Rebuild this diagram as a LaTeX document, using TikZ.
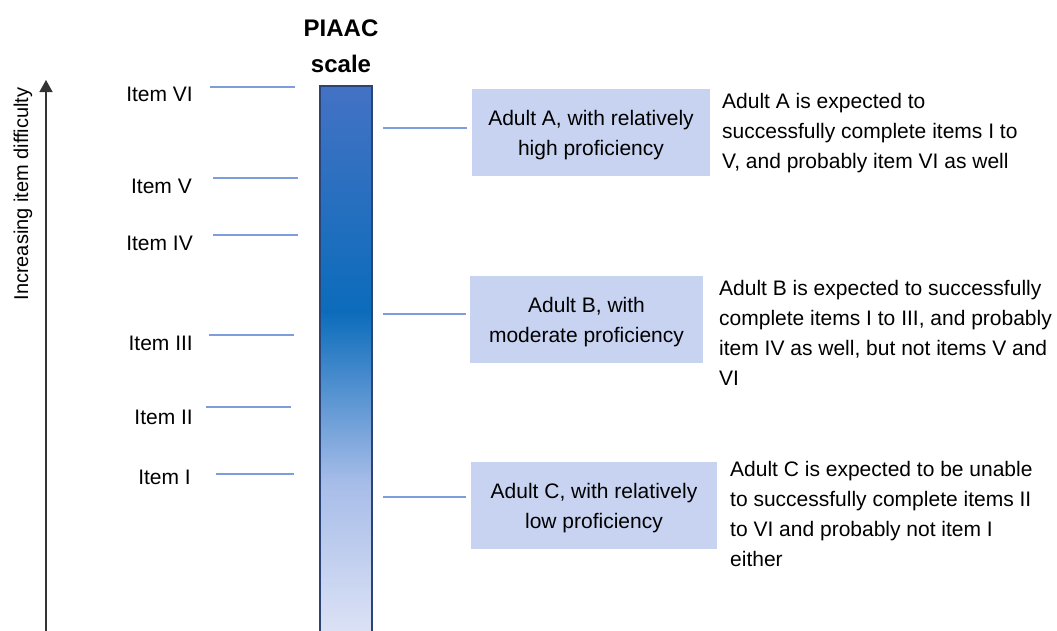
\documentclass[tikz,border=0pt]{standalone}
\usepackage{fontspec}
\setmainfont{Liberation Sans}
\usetikzlibrary{arrows.meta}
\definecolor{boxfill}{HTML}{C7D3F0}
\definecolor{tickcol}{HTML}{7E9DDA}
\definecolor{barborder}{HTML}{2B4475}
\definecolor{barA}{HTML}{4472C4}
\definecolor{barB}{HTML}{0B6CBB}
\definecolor{barC}{HTML}{A6BCE8}
\definecolor{barD}{HTML}{DEE4F6}
\definecolor{axiscol}{HTML}{333333}
\begin{document}
\begin{tikzpicture}[x=1pt,y=-1pt,
  txt/.style={font=\fontsize{21}{30}\selectfont, inner sep=0pt, text=black},
  itemlbl/.style={txt, anchor=base east},
  desc/.style={txt, anchor=base west, align=left},
  adultbox/.style={txt, fill=boxfill, minimum height=87pt, align=center, text depth=0pt},
  tickline/.style={draw=tickcol, line width=1.3pt},
  barframe/.style={draw=barborder, line width=2pt, minimum width=52pt, minimum height=550pt, inner sep=0pt, anchor=north west}
]
\clip (0,0) rectangle (1057,630);
\fill[white] (0,0) rectangle (1057,630);

% axis arrow
\coordinate (axbot) at (46,632);
\coordinate (axtop) at (46,80);
\draw[axiscol, line width=1.5pt, -{Triangle[length=12pt,width=13pt]}] (axbot) -- (axtop);
\node[txt, font=\fontsize{20}{24}\selectfont, rotate=90] (axlbl) at (23,194) {Increasing item difficulty};

% bar
\shade[top color=barA, bottom color=barB] (319,85) rectangle (371,312);
\shade[top color=barB, bottom color=barC] (319,311) rectangle (371,482);
\shade[top color=barC, bottom color=barD] (319,481) rectangle (371,640);
\node[barframe] (bar) at (319,85) {};
\node[txt, font=\bfseries\fontsize{24}{36}\selectfont, align=center, anchor=base] (title) at (341,72) {PIAAC\\scale};

% items
\node[itemlbl] (i6) at (193,101) {Item VI};
\node[itemlbl] (i5) at (192,193) {Item V};
\node[itemlbl] (i4) at (193,250) {Item IV};
\node[itemlbl] (i3) at (193,350) {Item III};
\node[itemlbl] (i2) at (193,424) {Item II};
\node[itemlbl] (i1) at (191,484) {Item I};

\coordinate (t6a) at (210,87);  \coordinate (t6b) at (295,87);
\coordinate (t5a) at (213,178); \coordinate (t5b) at (298,178);
\coordinate (t4a) at (213,235); \coordinate (t4b) at (298,235);
\coordinate (t3a) at (209,335); \coordinate (t3b) at (294,335);
\coordinate (t2a) at (206,407); \coordinate (t2b) at (291,407);
\coordinate (t1a) at (216,474); \coordinate (t1b) at (294,474);
\draw[tickline] (t6a) -- (t6b);
\draw[tickline] (t5a) -- (t5b);
\draw[tickline] (t4a) -- (t4b);
\draw[tickline] (t3a) -- (t3b);
\draw[tickline] (t2a) -- (t2b);
\draw[tickline] (t1a) -- (t1b);

% adult boxes
\node[adultbox, minimum width=238pt] (bA) at (591,132.5) {Adult A, with relatively\\high proficiency};
\node[adultbox, minimum width=233pt] (bB) at (586.5,319.5) {Adult B, with\\moderate proficiency};
\node[adultbox, minimum width=246pt] (bC) at (594,505.5) {Adult C, with relatively\\low proficiency};

\coordinate (cA) at (383,128); \coordinate (cB) at (383,314); \coordinate (cC) at (383,497);
\draw[tickline] (cA) -- ([xshift=-5pt]bA.west |- cA);
\draw[tickline] (cB) -- ([xshift=-4pt]bB.west |- cB);
\draw[tickline] (cC) -- ([xshift=-5pt]bC.west |- cC);

% descriptions (anchored at the baseline of the last line)
\node[desc] (dA) at (722,168) {Adult A is expected to\\successfully complete items I to\\V, and probably item VI as well};
\node[desc] (dB) at (719,385) {Adult B is expected to successfully\\complete items I to III, and probably\\item IV as well, but not items V and\\VI};
\node[desc] (dC) at (730,566) {Adult C is expected to be unable\\to successfully complete items II\\to VI and probably not item I\\either};
\end{tikzpicture}
\end{document}
